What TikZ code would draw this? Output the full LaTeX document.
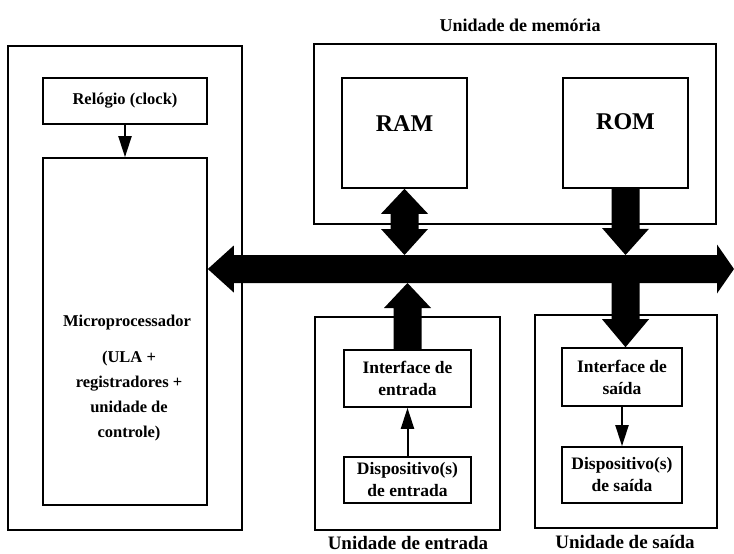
\documentclass[tikz,border=0pt]{standalone}
\usepackage{fontspec}
\setmainfont{Liberation Serif}
\usetikzlibrary{arrows.meta,calc}
\tikzset{
  box/.style={draw, line width=1.6pt, inner sep=0pt, align=center, font=\fontsize{17.5}{22}\selectfont\bfseries},
  lbox/.style={box, font=\fontsize{16.5}{22}\selectfont\bfseries},
  unit/.style={draw, line width=1.6pt, inner sep=0pt},
  txt/.style={inner sep=0pt, align=center, font=\fontsize{16.5}{25}\selectfont\bfseries},
  bigtxt/.style={inner sep=0pt, font=\fontsize{24}{28}\selectfont\bfseries},
  title/.style={inner sep=0pt, font=\fontsize{18}{22}\selectfont\bfseries},
  btitle/.style={inner sep=0pt, font=\fontsize{19}{22}\selectfont\bfseries},
  thin/.style={line width=2pt, -{Triangle[length=21pt,width=13pt]}},
  fat/.style={fill=black}
}
\begin{document}
\begin{tikzpicture}[x=1pt,y=-1pt]
\useasboundingbox (0,0) rectangle (734,554);
% CPU side
\node[unit, minimum width=234pt, minimum height=484pt] (cpu) at (125,288) {};
\node[lbox, minimum width=164pt, minimum height=46pt] (clock) at (125,101) {Relógio (clock)};
\node[unit, minimum width=164pt, minimum height=347pt] (micro) at (125,331.5) {};
\node[txt] (mptxt) at (127,323) {Microprocessador};
\node[txt] (ulatxt) at (129,396) {(ULA +\\registradores +\\unidade de\\controle)};
\draw[thin] (clock.south) -- (micro.north);
% memory
\node[title] (memtitle) at (520,25) {Unidade de memória};
\node[unit, minimum width=402pt, minimum height=180pt] (mem) at (515,134) {};
\node[unit, minimum width=125pt, minimum height=110pt] (ram) at (404.5,133) {};
\node[unit, minimum width=125pt, minimum height=110pt] (rom) at (625.5,133) {};
\node[bigtxt] (ramtxt) at ([yshift=9pt]ram.center) {RAM};
\node[bigtxt] (romtxt) at ([yshift=11pt]rom.center) {ROM};
% input unit
\node[unit, minimum width=185pt, minimum height=213pt] (inunit) at (407.5,423.5) {};
\node[box, minimum width=127pt, minimum height=57pt] (ie) at (407.5,378.5) {Interface de\\entrada};
\node[box, minimum width=127pt, minimum height=46pt] (de) at (407.5,480) {Dispositivo(s)\\de entrada};
\node[btitle] (intitle) at (408,543) {Unidade de entrada};
\draw[thin] (de.north) -- (ie.south);
% output unit
\node[unit, minimum width=182pt, minimum height=213pt] (outunit) at (626,421.5) {};
\node[box, minimum width=120pt, minimum height=58pt] (is) at (622,377) {Interface de\\saída};
\node[box, minimum width=120pt, minimum height=56pt] (ds) at (622,475) {Dispositivo(s)\\de saída};
\node[btitle] (outtitle) at (625,542) {Unidade de saída};
\draw[thin] (is.south) -- (ds.north);
% bus
\coordinate (busR) at (734,269);
\fill[fat] (micro.east |- busR) -- ++(26,-23.5) -- ++(0,9.5) -- ($(busR)+(-17,-14)$) -- ++(0,-10.5) -- (busR)
  -- ++(-17,24.5) -- ++(0,-10.5) -- ($(micro.east |- busR)+(26,14)$) -- ++(0,9.5) -- cycle;
% RAM <-> bus
\fill[fat] (ram.south) -- ++(23.5,25) -- ++(-9.5,0) -- ($(ram.south |- busR)+(14,-40)$) -- ++(9.5,0)
  -- ($(ram.south |- busR)+(0,-14)$) -- ++(-23.5,-26) -- ++(9.5,0) -- ($(ram.south)+(-14,25)$) -- ++(-9.5,0) -- cycle;
% ROM -> bus
\fill[fat] ($(rom.south)+(-14,0)$) -- ++(28,0) -- ++(0,40) -- ++(9.5,0) -- ($(rom.south |- busR)+(0,-14)$)
  -- ++(-23.5,-27) -- ++(9.5,0) -- cycle;
% bus -> output interface
\fill[fat] ($(rom.south |- busR)+(-14,14)$) -- ++(28,0) -- ($(rom.south |- is.north)+(14,-28)$) -- ++(9.5,0)
  -- (rom.south |- is.north) -- ++(-23.5,-28) -- ++(9.5,0) -- cycle;
% input interface -> bus
\fill[fat] ($(ie.north)+(-14,0)$) -- ++(28,0) -- ($(ie.north |- busR)+(14,39)$) -- ++(9.5,0)
  -- ($(ie.north |- busR)+(0,14)$) -- ++(-23.5,25) -- ++(9.5,0) -- cycle;
\end{tikzpicture}
\end{document}
